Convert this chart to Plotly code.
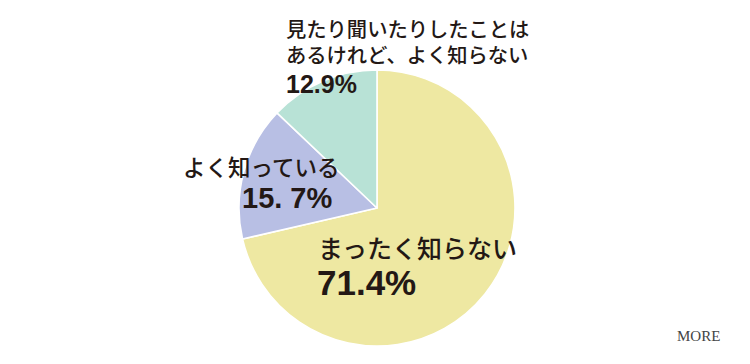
import plotly.graph_objects as go

# Data
labels = ["まったく知らない", "よく知っている", "見たり聞いたりしたことは<br>あるけれど、よく知らない"]
values = [71.4, 15.7, 12.9]
value_texts = ["71.4%", "15. 7%", "12.9%"]
colors = ["#EEE8A2", "#B8BFE4", "#B8E2D6"]

# page body has an 8px margin; size the figure to fit the window
OFF = 8
W, H = 750 - 2 * OFF, 364 - 2 * OFF
cx, cy, r = 377 - OFF, 208 - OFF, 138

fig = go.Figure(go.Pie(
    labels=labels,
    values=values,
    sort=False,
    direction="clockwise",
    rotation=0,
    marker=dict(colors=colors, line=dict(color="white", width=1.6)),
    textinfo="none",
    hoverinfo="label+percent",
    showlegend=False,
    domain=dict(x=[(cx - r) / W, (cx + r) / W], y=[(H - cy - r) / H, (H - cy + r) / H]),
))

def px(x):
    return (x - OFF) / W

def py(y):
    return 1 - (y - OFF) / H

jp = "Noto Sans CJK JP"
num = "Liberation Sans"
dark = "#231815"

ann = []
# label positions (left x, center y, size) in window pixels
label_pos = [(316, 247, 25), (181, 166, 22.5), (284, 41, 20.3)]
num_pos = [(315, 282, 35), (240, 198, 29), (284, 84, 25)]
for i in range(len(labels)):
    lx, ly, ls = label_pos[i]
    ann.append(dict(x=px(lx), y=py(ly), xref="paper", yref="paper", text=labels[i],
                    showarrow=False, xanchor="left", yanchor="middle", align="left",
                    font=dict(family=jp, size=ls, color=dark, weight=500)))
    nx, ny, ns = num_pos[i]
    ann.append(dict(x=px(nx), y=py(ny), xref="paper", yref="paper", text=value_texts[i],
                    showarrow=False, xanchor="left", yanchor="middle",
                    font=dict(family=num, size=ns, color=dark, weight="bold")))

ann.append(dict(x=px(722), y=py(336), xref="paper", yref="paper", text="MORE",
                showarrow=False, xanchor="right", yanchor="middle",
                font=dict(family="Liberation Serif", size=15, color="#444444")))

fig.update_layout(
    width=W, height=H,
    margin=dict(l=0, r=0, t=0, b=0),
    paper_bgcolor="white", plot_bgcolor="white",
    annotations=ann,
)

fig.write_html("out.html")
